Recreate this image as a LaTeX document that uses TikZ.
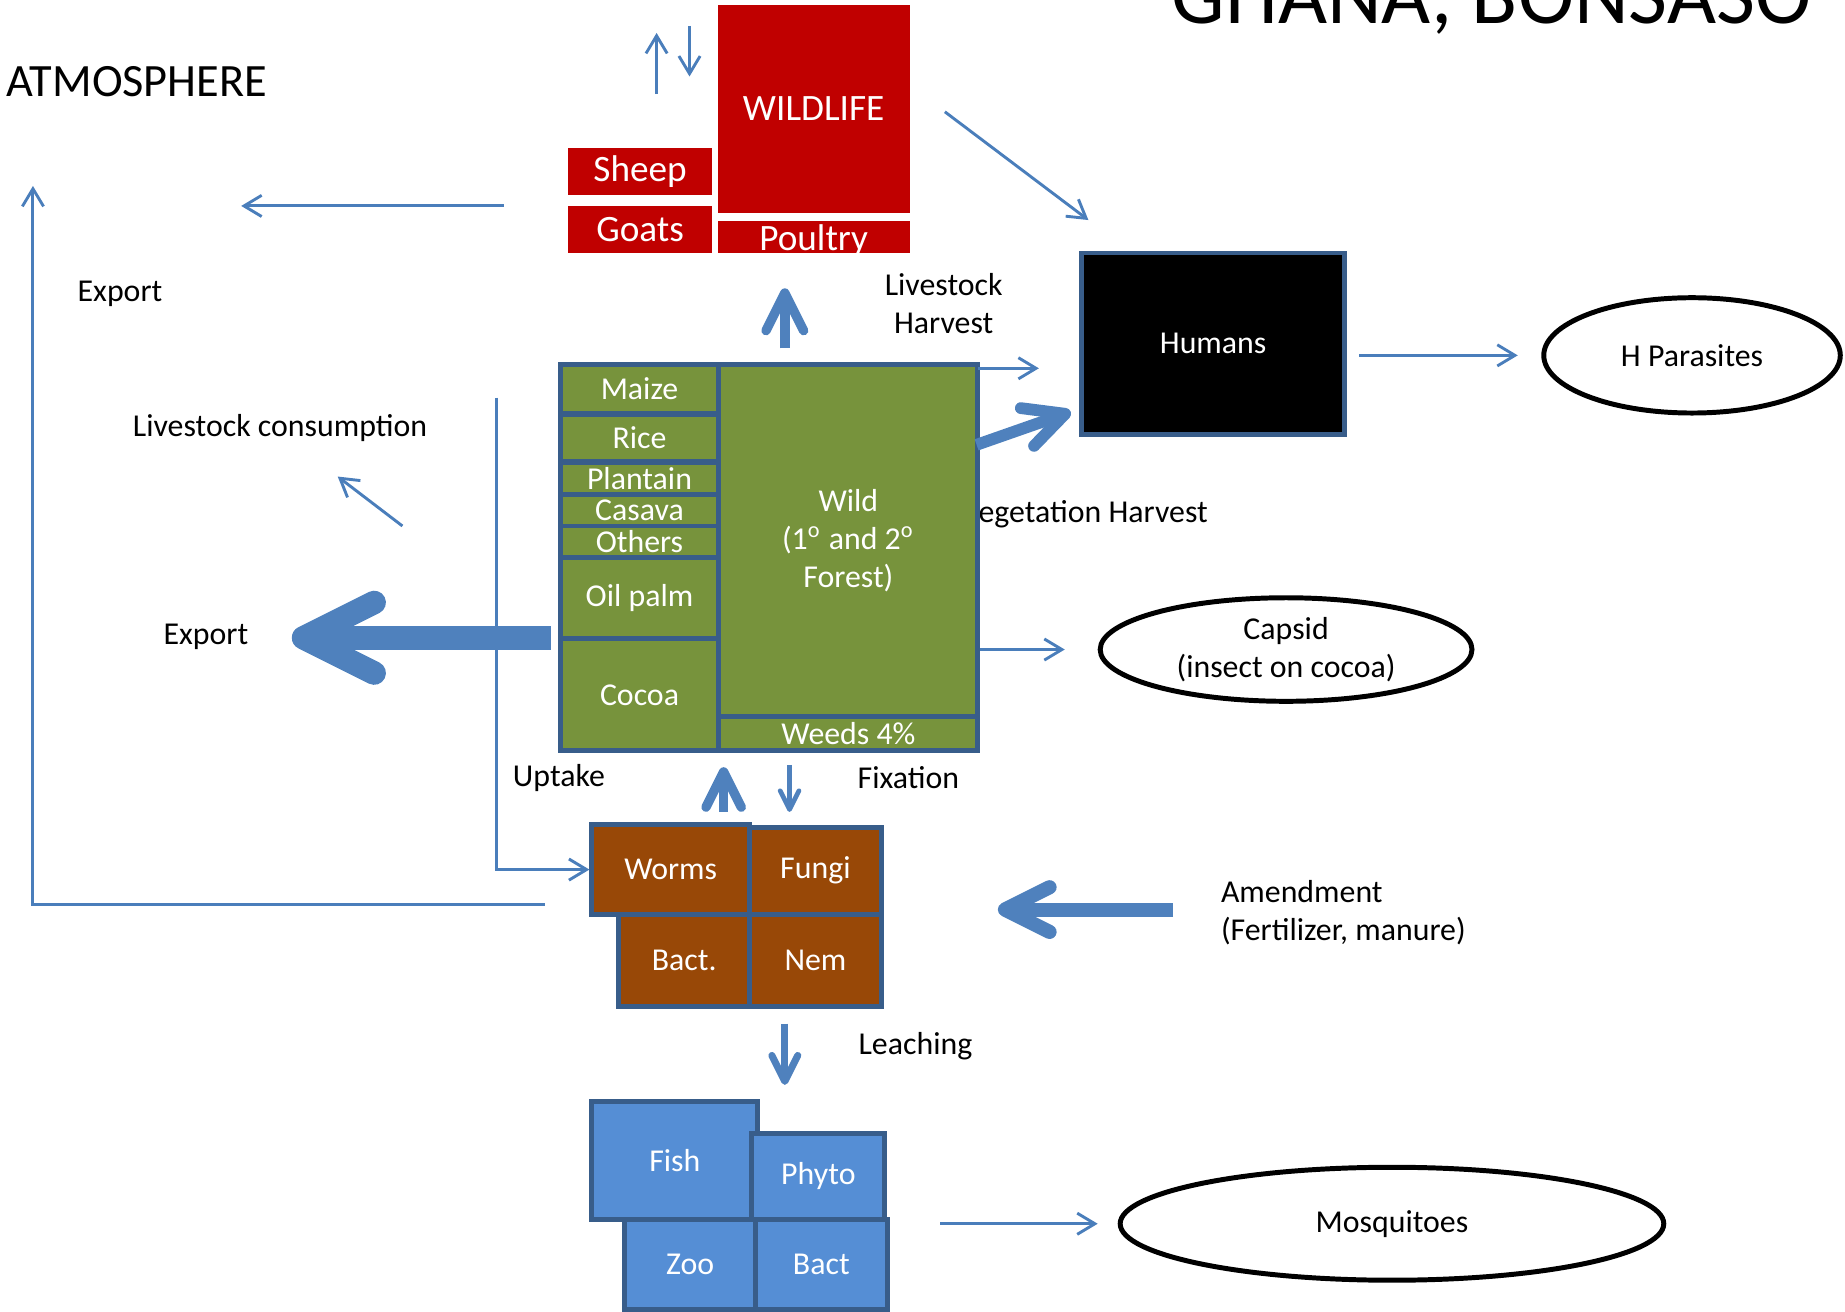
\documentclass[tikz,border=0pt]{standalone}
\usepackage{fontspec}
\setmainfont{Carlito}
\usepackage{tikz}
\usetikzlibrary{arrows.meta,shapes.geometric}
\definecolor{wildred}{HTML}{C00000}
\definecolor{cropgreen}{HTML}{77933C}
\definecolor{soilbrown}{HTML}{984807}
\definecolor{waterblue}{HTML}{558ED5}
\definecolor{edgeblue}{HTML}{385D8A}
\definecolor{flowblue}{HTML}{4A7EBB}
\definecolor{fatblue}{HTML}{4F81BD}
\tikzset{fat/.style 2 args={draw=fatblue, line width=#1, -{Straight Barb[length=#2, width=#2, round]}}}

\begin{document}
\begin{tikzpicture}[x=0.1mm,y=-0.1mm]
\tikzstyle{every node}+=[inner sep=0pt, font=\fontsize{7.7}{9.2}\selectfont]
\tikzstyle{cell}=[rectangle, draw=edgeblue, line width=1.2pt, text=white]
\tikzstyle{crop}=[cell, fill=cropgreen, minimum width=13.5mm]
\tikzstyle{soil}=[cell, fill=soilbrown]
\tikzstyle{water}=[cell, fill=waterblue]
\tikzstyle{animal}=[rectangle, fill=wildred, text=white, font=\fontsize{9}{11}\selectfont]
\tikzstyle{pest}=[ellipse, draw=black, line width=1.2pt, align=center]
\tikzstyle{flow}=[draw=flowblue, line width=0.7pt, -{Straight Barb[length=1.5mm, width=1.8mm]}]
\useasboundingbox (0,0) rectangle (1568,1115);
\clip (0,0) rectangle (1568,1115);
% title and labels
\node[anchor=base east, font=\fontsize{20.5}{24}\selectfont] (title) at (1540,20) {GHANA, BONSASO};
\node[anchor=west, font=\fontsize{11.2}{13}\selectfont] (atm) at (5,69) {ATMOSPHERE};
\node (export1) at (102,250) {Export};
\node (lvcons) at (238,364) {Livestock consumption};
\node (export2) at (175,541) {Export};
\node[align=center] (lvharv) at (802,258) {Livestock\\Harvest};
\node[anchor=west] (vegharv) at (831,437) {egetation Harvest};
\node (uptake) at (475,661) {Uptake};
\node (fixation) at (772,661) {Fixation};
\node (leaching) at (778,889) {Leaching};
\node[anchor=west, align=left] (amend) at (1037,776) {Amendment\\(Fertilizer, manure)};
% animals
\node[animal, minimum width=16.3mm, minimum height=17.7mm] (wildlife) at (691.5,92.5) {WILDLIFE};
\node[animal, minimum width=12.2mm, minimum height=4mm] (sheep) at (544,146) {Sheep};
\node[animal, minimum width=12.2mm, minimum height=4mm] (goats) at (544,195) {Goats};
\node[animal, minimum width=16.3mm, text height=2.5mm, text depth=0.2mm] (poultry) at (691.5,201.5) {Poultry};
% crops
\node[crop, minimum height=4.1mm] (maize) at (543.5,330.5) {Maize};
\node[crop, minimum height=4mm] (rice) at (543.5,372) {Rice};
\node[crop, minimum height=2.7mm] (plantain) at (543.5,406.5) {Plantain};
\node[crop, minimum height=2.7mm] (casava) at (543.5,433.5) {Casava};
\node[crop, minimum height=2.7mm] (others) at (543.5,460.5) {Others};
\node[crop, minimum height=6.9mm] (oilpalm) at (543.5,508.5) {Oil palm};
\node[crop, minimum height=9.5mm] (cocoa) at (543.5,590.5) {Cocoa};
\node[crop, minimum width=22mm, minimum height=29.9mm, align=center] (wild) at (721,459.5) {Wild\\(1\textsuperscript{o} and 2\textsuperscript{o}\\Forest)};
\node[crop, minimum width=22mm, minimum height=2.9mm] (weeds) at (721,623.5) {Weeds 4\%};
% humans and pests
\node[rectangle, fill=black, draw=edgeblue, line width=1.2pt, text=white, minimum width=22.4mm, minimum height=15.4mm] (humans) at (1031,292) {Humans};
\node[pest, minimum width=25.2mm, minimum height=9.8mm] (hpar) at (1438,302) {H Parasites};
\node[pest, minimum width=31.6mm, minimum height=8.8mm] (capsid) at (1093,552) {Capsid\\(insect on cocoa)};
\node[pest, minimum width=46.2mm, minimum height=9.6mm] (mosq) at (1183,1040) {Mosquitoes};
% soil
\node[soil, minimum width=13.4mm, minimum height=7.6mm] (worms) at (570,739) {Worms};
\node[soil, minimum width=11.2mm, minimum height=7.4mm] (fungi) at (693,740) {Fungi};
\node[soil, minimum width=11.1mm, minimum height=7.8mm] (bact) at (581.5,816) {Bact.};
\node[soil, minimum width=11.2mm, minimum height=7.8mm] (nem) at (693,816) {Nem};
% water
\node[water, minimum width=14.1mm, minimum height=10mm] (fish) at (573.5,986) {Fish};
\node[water, minimum width=11.3mm, minimum height=7.3mm] (phyto) at (695.5,999.5) {Phyto};
\node[water, minimum width=11.1mm, minimum height=7.7mm] (zoo) at (586.5,1074.5) {Zoo};
\node[water, minimum width=11.2mm, minimum height=7.7mm] (bacteria) at (698,1074.5) {Bact};
% free ends of the flows
\coordinate (emit a) at (558,80);
\coordinate (emit b) at (558,28);
\coordinate (depo a) at (586,22);
\coordinate (depo b) at (586,65);
\coordinate (feed a) at (428,175);
\coordinate (feed b) at (205,175);
\coordinate (graze a) at (342,447);
\coordinate (graze b) at (287,405);
\coordinate (resp a) at (463,769);
\coordinate (resp b) at (28,158);
\coordinate (upt a) at (422,338);
\coordinate (hunt a) at (803,95);
\coordinate (hunt b) at (925,187);
\coordinate (lvh a) at (831,313);
\coordinate (exp a) at (468,542);
\coordinate (exp b) at (248,542);
\coordinate (lh a) at (667,296);
\coordinate (lh b) at (667,245);
\coordinate (vh a) at (830,378);
\coordinate (vh b) at (910,350);
\coordinate (up a) at (615,690);
\coordinate (up b) at (615,652);
\coordinate (fix a) at (671,650);
\coordinate (fix b) at (671,690);
\coordinate (amd a) at (997,773);
\coordinate (amd b) at (848,773);
\coordinate (lch a) at (667,870);
\coordinate (lch b) at (667,922);
% thin flows
\draw[flow] (emit a) -- (emit b);
\draw[flow] (depo a) -- (depo b);
\draw[flow] (feed a) -- (feed b);
\draw[flow] (graze a) -- (graze b);
\draw[flow] (resp a) -| (resp b);
\draw[flow] (upt a) |- (worms.west);
\draw[flow] (hunt a) -- (hunt b);
\draw[flow, shorten >=3.4mm] (lvh a) -- (lvh a -| humans.west);
\draw[flow, shorten <=1mm, shorten >=2mm] (humans.east |- hpar.west) -- (hpar.west);
\draw[flow, shorten >=2.8mm] (wild.east |- capsid.west) -- (capsid.west);
\draw[flow, shorten <=4.3mm, shorten >=1.7mm] (bacteria.east |- mosq.west) -- (mosq.west);
% fat flows
\draw[fat={2mm}{6mm}] (exp a) -- (exp b);
\draw[fat={0.8mm}{3.2mm}] (lh a) -- (lh b);
\draw[fat={1mm}{3.4mm}] (vh a) -- (vh b);
\draw[fat={0.8mm}{3mm}] (up a) -- (up b);
\draw[fat={0.4mm}{1.6mm}] (fix a) -- (fix b);
\draw[fat={1.2mm}{3.8mm}] (amd a) -- (amd b);
\draw[fat={0.6mm}{2.2mm}] (lch a) -- (lch b);
\end{tikzpicture}
\end{document}
